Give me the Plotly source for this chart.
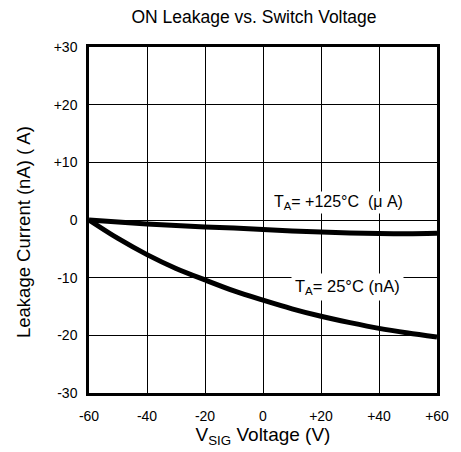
import plotly.graph_objects as go

vsig = [-60, -50, -40, -30, -20, -10, 0, 10, 20, 30, 40, 50, 60]
leak_125 = [0, -0.35, -0.7, -0.95, -1.2, -1.4, -1.65, -1.9, -2.1, -2.25, -2.35, -2.38, -2.3]
leak_25 = [0, -3.2, -6.0, -8.4, -10.4, -12.3, -13.9, -15.4, -16.7, -17.8, -18.8, -19.6, -20.3]

x_ticks = [-60, -40, -20, 0, 20, 40, 60]
x_ticktext = ["-60", "-40", "-20", "0", "+20", "+40", "+60"]
y_ticks = [-30, -20, -10, 0, 10, 20, 30]
y_ticktext = ["-30", "-20", "-10", "0", "+10", "+20", "+30"]

FONT = "Liberation Sans, Arial, Helvetica, sans-serif"

ML, MT, PW, PH = 81, 39, 348, 346

fig = go.Figure()
fig.add_trace(go.Scatter(x=vsig, y=leak_125, mode="lines",
                         line=dict(color="black", width=5, shape="spline", smoothing=0.8),
                         showlegend=False, hoverinfo="skip"))
fig.add_trace(go.Scatter(x=vsig, y=leak_25, mode="lines",
                         line=dict(color="black", width=5, shape="spline", smoothing=0.8),
                         showlegend=False, hoverinfo="skip"))

fig.add_annotation(x=26.2, y=3.0, xref="x", yref="y", xanchor="center", yanchor="middle",
                   text="T<sub>A</sub>= +125°C  (μ A)", showarrow=False,
                   font=dict(family=FONT, size=16, color="black"), bgcolor="white",
                   borderpad=1)
fig.add_annotation(x=29.1, y=-11.6, xref="x", yref="y", xanchor="center", yanchor="middle",
                   text="T<sub>A</sub>= 25°C (nA)", showarrow=False,
                   font=dict(family=FONT, size=16.5, color="black"), bgcolor="white",
                   borderpad=3)

# y-axis title placed as a rotated annotation (slightly below the axis centre, as in the reference)
fig.add_annotation(x=(23 - 8 - ML) / PW, y=1 - (232 - 8 - MT) / PH, xref="paper", yref="paper",
                   xanchor="center", yanchor="middle", textangle=-90,
                   text="Leakage Current (nA) ( A)", showarrow=False,
                   font=dict(family=FONT, size=18.5, color="black"))

fig.update_layout(
    width=461, height=452,
    margin=dict(l=ML, r=461 - ML - PW, t=MT, b=452 - MT - PH),
    paper_bgcolor="white", plot_bgcolor="white",
    font=dict(family=FONT, color="black", size=14),
    title=dict(text="ON Leakage vs. Switch Voltage", x=(254 - 8) / 461, xanchor="center",
               y=1 - (17 - 8) / 452, yanchor="middle",
               font=dict(family=FONT, size=17.5, color="black")),
)
fig.update_xaxes(range=[-60, 60], tickvals=x_ticks, ticktext=x_ticktext,
                 showgrid=True, gridcolor="black", gridwidth=1.4,
                 showline=True, linecolor="black", linewidth=2.5, mirror=True,
                 ticks="outside", ticklen=8, tickcolor="white", zeroline=False,
                 tickfont=dict(family=FONT, size=14, color="black"),
                 title=dict(text="V<sub>SIG</sub> Voltage (V)", standoff=6,
                            font=dict(family=FONT, size=19, color="black")))
fig.update_yaxes(range=[-30, 30], tickvals=y_ticks, ticktext=y_ticktext,
                 showgrid=True, gridcolor="black", gridwidth=1.4,
                 showline=True, linecolor="black", linewidth=2.5, mirror=True,
                 ticks="outside", ticklen=6, tickcolor="white", zeroline=False,
                 tickfont=dict(family=FONT, size=14, color="black"))

fig.write_html("out.html")
